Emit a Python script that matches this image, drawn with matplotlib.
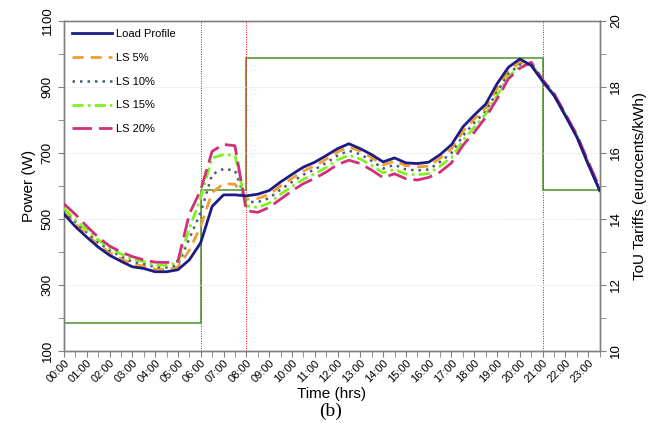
import numpy as np
import matplotlib
matplotlib.use("Agg")
from matplotlib import pyplot as plt
from matplotlib.ticker import MultipleLocator

plt.rcParams['font.family'] = ['Liberation Sans', 'DejaVu Sans']

# half-hourly time axis, 00:00 .. 23:30
hours = np.arange(48) * 0.5
hour_labels = [f"{h:02d}:00" for h in range(24)]

load_profile = [515, 477, 445, 415, 390, 372, 355, 350, 340, 340, 346, 376,
                428, 538, 573, 573, 570, 575, 586, 612, 635, 657, 672, 692,
                713, 728, 713, 695, 673, 685, 670, 668, 672, 695, 725, 779,
                815, 848, 910, 960, 985, 965, 917, 874, 812, 748, 665, 586]
ls_5 = [523, 485, 453, 423, 398, 380, 363, 357, 348, 347, 354, 405,
        478, 580, 607, 605, 560, 562, 574, 600, 623, 645, 661, 681,
        703, 718, 706, 686, 664, 675, 662, 658, 660, 684, 712, 765,
        803, 836, 896, 948, 975, 968, 918, 876, 814, 750, 668, 588]
ls_10 = [527, 491, 459, 430, 405, 387, 370, 364, 354, 353, 360, 440,
         520, 635, 652, 647, 552, 551, 563, 589, 612, 634, 650, 670,
         692, 707, 696, 676, 653, 664, 650, 647, 650, 673, 700, 752,
         792, 826, 885, 940, 968, 970, 919, 877, 815, 751, 669, 590]
ls_15 = [533, 497, 466, 437, 412, 394, 377, 371, 360, 360, 366, 470,
         565, 685, 695, 693, 540, 535, 548, 575, 598, 620, 637, 656,
         679, 693, 682, 662, 640, 650, 636, 634, 638, 660, 686, 738,
         778, 818, 875, 932, 962, 972, 920, 878, 816, 752, 670, 591]
ls_20 = [546, 514, 478, 445, 418, 400, 386, 376, 369, 368, 372, 515,
         588, 705, 726, 722, 525, 520, 535, 560, 585, 607, 623, 642,
         665, 678, 668, 648, 625, 637, 622, 618, 626, 642, 670, 723,
         763, 808, 864, 925, 957, 975, 922, 880, 818, 755, 673, 594]

# ToU tariff steps (eurocents/kWh)
tariff_hours = [0, 6, 8, 21, 23.5]
tariff_values = [10.86, 14.88, 18.88, 14.88, 14.88]
period_edges = [6, 8, 21]

fig = plt.figure(figsize=(6.59, 4.29), dpi=100)
ax = fig.add_axes([0.097, 0.182, 0.813, 0.769])
ax2 = ax.twinx()

ax.plot(hours, load_profile, color='#1c1c84', lw=2.0, label='Load Profile', zorder=5)
ax.plot(hours, ls_5, color='#f0a030', lw=2.0, ls=(0, (4, 2.5)), label='LS 5%', zorder=4)
ax.plot(hours, ls_10, color='#4a5a7a', lw=1.8, ls=(0, (1, 2)), label='LS 10%', zorder=4)
ax.plot(hours, ls_15, color='#80f020', lw=2.0, ls=(0, (4, 1.5, 1, 1.5)), label='LS 15%', zorder=4)
ax.plot(hours, ls_20, color='#d0307a', lw=2.0, ls=(0, (7, 2.5)), label='LS 20%', zorder=4)

for edge in period_edges:
    ax.axvline(edge, color='red', lw=0.7, ls=(0, (1, 1.5)), zorder=1)

ax2.step(tariff_hours, tariff_values, where='post', color='#5a9a3a', lw=1.2)

ax.set_xlim(0, 23.5)
ax.set_ylim(100, 1100)
ax2.set_ylim(10, 20)

ax.set_xticks(range(24))
ax.set_xticklabels(hour_labels, rotation=45, ha='right', rotation_mode='anchor', fontsize=8)
ax.xaxis.set_minor_locator(MultipleLocator(0.5))
ax.set_yticks([100, 300, 500, 700, 900, 1100])
ax.yaxis.set_minor_locator(MultipleLocator(100))
ax2.set_yticks([10, 12, 14, 16, 18, 20])
ax2.yaxis.set_minor_locator(MultipleLocator(1))

for lab in ax.get_yticklabels():
    lab.set_rotation(90)
    lab.set_va('center')
for lab in ax2.get_yticklabels():
    lab.set_rotation(90)
    lab.set_va('center')

ax.tick_params(axis='both', which='both', direction='out', length=4, color='#808080', labelsize=9.5)
ax.tick_params(axis='x', labelsize=8, pad=1)
ax2.tick_params(axis='y', which='both', direction='out', length=4, color='#808080', labelsize=9.5)

ax.grid(axis='y', which='major', color='#e2e2e2', ls=(0, (1, 1)), lw=0.7)
for sp in list(ax.spines.values()) + list(ax2.spines.values()):
    sp.set_color('#808080')
    sp.set_linewidth(1.0)

ax.set_ylabel('Power (W)', fontsize=11, labelpad=4)
ax2.set_ylabel('ToU Tariffs (eurocents/kWh)', fontsize=11, labelpad=8)
ax.set_xlabel('Time (hrs)', fontsize=11, labelpad=2)

ax.set_zorder(ax2.get_zorder() + 1)
ax.patch.set_visible(False)

ax.legend(loc='upper left', frameon=False, fontsize=8, handlelength=3.6,
          labelspacing=1.25, borderaxespad=0.3, handletextpad=0.4)

fig.text(0.502, 0.03, '(b)', fontsize=14, family='Liberation Serif', ha='center')

fig.savefig('out.png', dpi=100)
